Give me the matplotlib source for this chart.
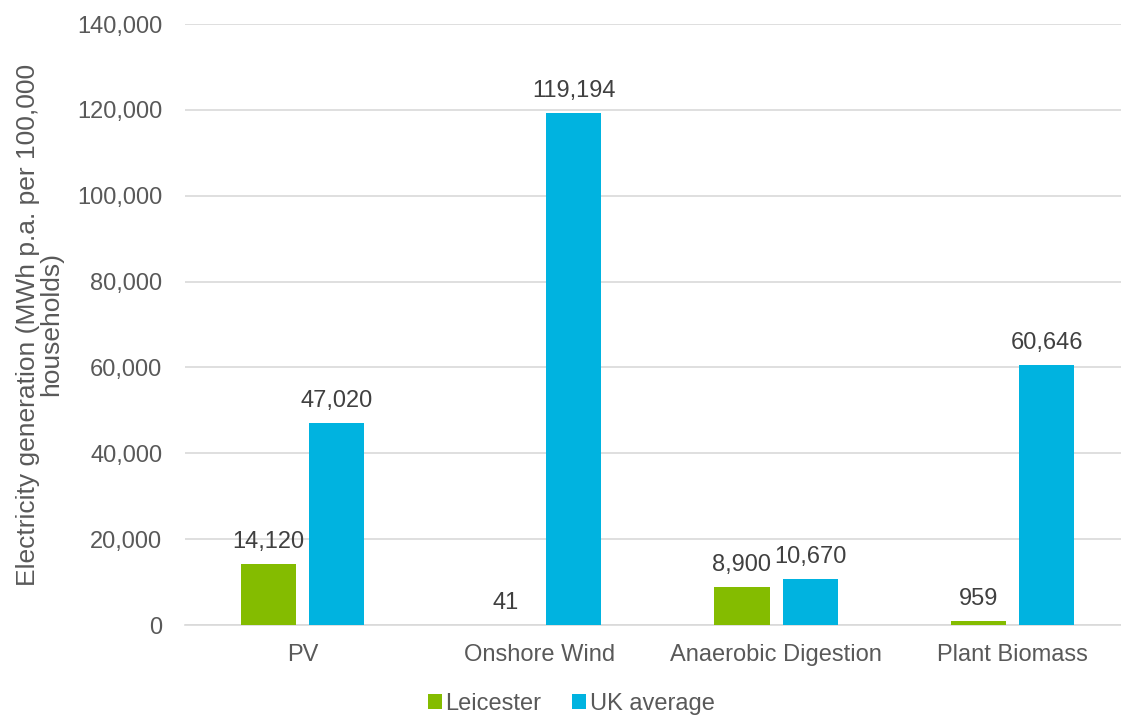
import numpy as np
import matplotlib.pyplot as plt
from matplotlib.ticker import FuncFormatter

plt.rcParams['font.family'] = ['Liberation Sans', 'DejaVu Sans']

# electricity generation, MWh p.a. per 100,000 households
categories = ["PV", "Onshore Wind", "Anaerobic Digestion", "Plant Biomass"]
leicester = [14120, 41, 8900, 959]
uk_average = [47020, 119194, 10670, 60646]

green = "#84BC00"
blue = "#00B3E0"
grey = "#595959"
fs = 17

fig = plt.figure(figsize=(11.21, 7.16), dpi=100)
ax = fig.add_axes([184.5/1121, 1-625/716, (1131-184.5)/1121, (625-24)/716])

x = np.arange(len(categories))
w = 0.233
off = 0.144
b1 = ax.bar(x - off, leicester, w, color=green, label="Leicester", zorder=3)
b2 = ax.bar(x + off, uk_average, w, color=blue, label="UK average", zorder=3)

for bars, vals in [(b1, leicester), (b2, uk_average)]:
    for b, v in zip(bars, vals):
        ax.annotate(f"{v:,}", (b.get_x() + b.get_width()/2, v),
                    xytext=(0, 8), textcoords="offset points",
                    ha="center", va="bottom", fontsize=fs, color="#404040")

ax.set_xlim(-0.5, len(categories) - 0.5)
ax.set_ylim(0, 140000)
ax.set_yticks(np.arange(0, 140001, 20000))
ax.yaxis.set_major_formatter(FuncFormatter(lambda v, p: f"{int(v):,}"))
ax.set_xticks(x)
ax.set_xticklabels(categories)
ax.grid(axis="y", color="#D9D9D9", linewidth=1.2, zorder=0)
ax.tick_params(axis="y", length=0, pad=16, labelsize=fs, labelcolor=grey)
ax.tick_params(axis="x", length=0, pad=14, labelsize=fs, labelcolor=grey)
for s in ["top", "right", "left"]:
    ax.spines[s].set_visible(False)
ax.spines["bottom"].set_color("#D9D9D9")
ax.spines["bottom"].set_linewidth(1.2)

ax.set_ylabel("Electricity generation (MWh p.a. per 100,000\nhouseholds)",
              fontsize=19, color=grey, linespacing=0.95)
ax.yaxis.set_label_coords(-121/946.5, 0.5)

fig.legend(loc="center", bbox_to_anchor=(571/1121, 1-704/716), ncol=2,
           frameon=False, fontsize=fs, handlelength=0.6, handleheight=0.6,
           handletextpad=0.15, columnspacing=1.3, labelcolor=grey)

fig.savefig("out.png", dpi=100)
